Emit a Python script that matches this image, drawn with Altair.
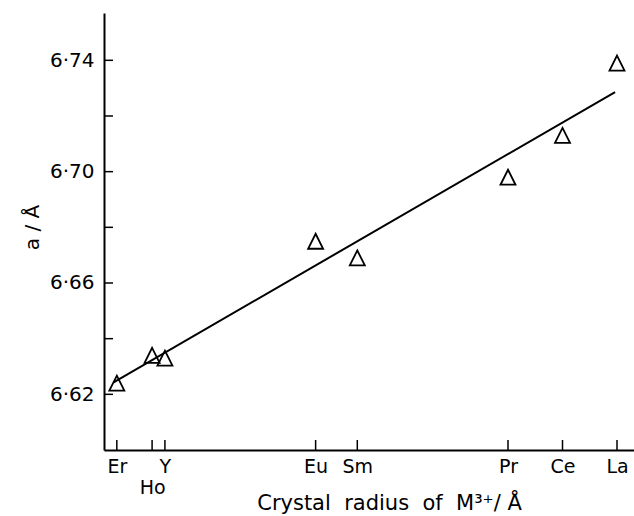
import altair as alt
import pandas as pd

# Lattice parameter a of the cubic phase versus 8-coordinate crystal radius of M3+
elements = ["Er", "Ho", "Y", "Eu", "Sm", "Pr", "Ce", "La"]
radius = [1.144, 1.155, 1.159, 1.206, 1.219, 1.266, 1.283, 1.300]
lattice_a = [6.624, 6.634, 6.633, 6.675, 6.669, 6.698, 6.713, 6.739]

# least-squares line, given by its two end points
fit_x = [1.143, 1.2994]
fit_y = [6.6243, 6.7286]

y_ticks = [6.62, 6.64, 6.66, 6.68, 6.70, 6.72, 6.74]
y_labels = [6.62, 6.66, 6.70, 6.74]

W, H = 530, 437
FONT = "DejaVu Sans"

pts = pd.DataFrame({"el": elements, "r": radius, "a": lattice_a})
fit = pd.DataFrame({"r": fit_x, "a": fit_y})
yt = pd.DataFrame({"a": y_ticks})

xs = alt.Scale(domain=[1.140, 1.3053], nice=False, zero=False)
ys = alt.Scale(domain=[6.60, 6.757], nice=False, zero=False)

# element symbol under each tick; Ho goes on a second line
label_expr = "".join(
    f"abs(datum.value - {r}) < 0.0005 ? " + (f"['', '{e}']" if e == "Ho" else f"'{e}'") + " : "
    for e, r in zip(elements, radius)
) + "''"

x_axis = alt.Axis(
    values=radius,
    labelExpr=label_expr,
    labelOverlap=False,
    labelFlush=False,
    labelBound=False,
    ticks=False,
    grid=False,
    domainColor="black",
    domainWidth=2,
    labelFont=FONT,
    labelFontSize=19,
    labelColor="black",
    labelPadding=7,
    labelLineHeight=21,
    labelBaseline="top",
    title="Crystal\u00a0 radius\u00a0 of\u00a0 M³⁺/ Å",
    titleFont=FONT,
    titleFontSize=21,
    titleFontWeight="normal",
    titleColor="black",
    titleX=285,
    titleY=53,
    titleBaseline="middle",
    titleAlign="center",
)

y_axis = alt.Axis(
    values=y_labels,
    labelExpr="replace(format(datum.value, '.2f'), '.', '·')",
    labelOverlap=False,
    ticks=False,
    grid=False,
    domainColor="black",
    domainWidth=2,
    labelFont=FONT,
    labelFontSize=20,
    labelColor="black",
    labelPadding=10,
    title="a / Å",
    titleFont=FONT,
    titleFontSize=20,
    titleFontWeight="normal",
    titleColor="black",
    titleX=-72,
    titleY=214,
    titleAngle=270,
    titleBaseline="middle",
    titleAlign="center",
)

points = alt.Chart(pts).mark_point(
    shape="M0,-1L1,1L-1,1Z", size=225, color="black", strokeWidth=1.8, filled=False, opacity=1
).encode(
    x=alt.X("r:Q", scale=xs, axis=x_axis),
    y=alt.Y("a:Q", scale=ys, axis=y_axis),
)

line = alt.Chart(fit).mark_line(color="black", strokeWidth=2).encode(
    x=alt.X("r:Q", scale=xs),
    y=alt.Y("a:Q", scale=ys),
)

# inward ticks on the y axis
y_tick_marks = alt.Chart(yt).mark_rule(color="black", strokeWidth=1.5).encode(
    y=alt.Y("a:Q", scale=ys),
    x=alt.value(0),
    x2=alt.value(9),
)

# inward ticks on the x axis
x_tick_marks = alt.Chart(pts).mark_rule(color="black", strokeWidth=1.5).encode(
    x=alt.X("r:Q", scale=xs),
    y=alt.value(H),
    y2=alt.value(H - 10),
)

chart = (
    alt.layer(line, points, y_tick_marks, x_tick_marks)
    .properties(
        width=W,
        height=H,
        padding={"left": 104, "top": 13, "right": 0, "bottom": 66},
        autosize=alt.AutoSizeParams(type="none"),
        background="white",
    )
    .configure_view(stroke=None)
)

chart.save("out.html", embed_options={"renderer": "svg", "actions": False})
